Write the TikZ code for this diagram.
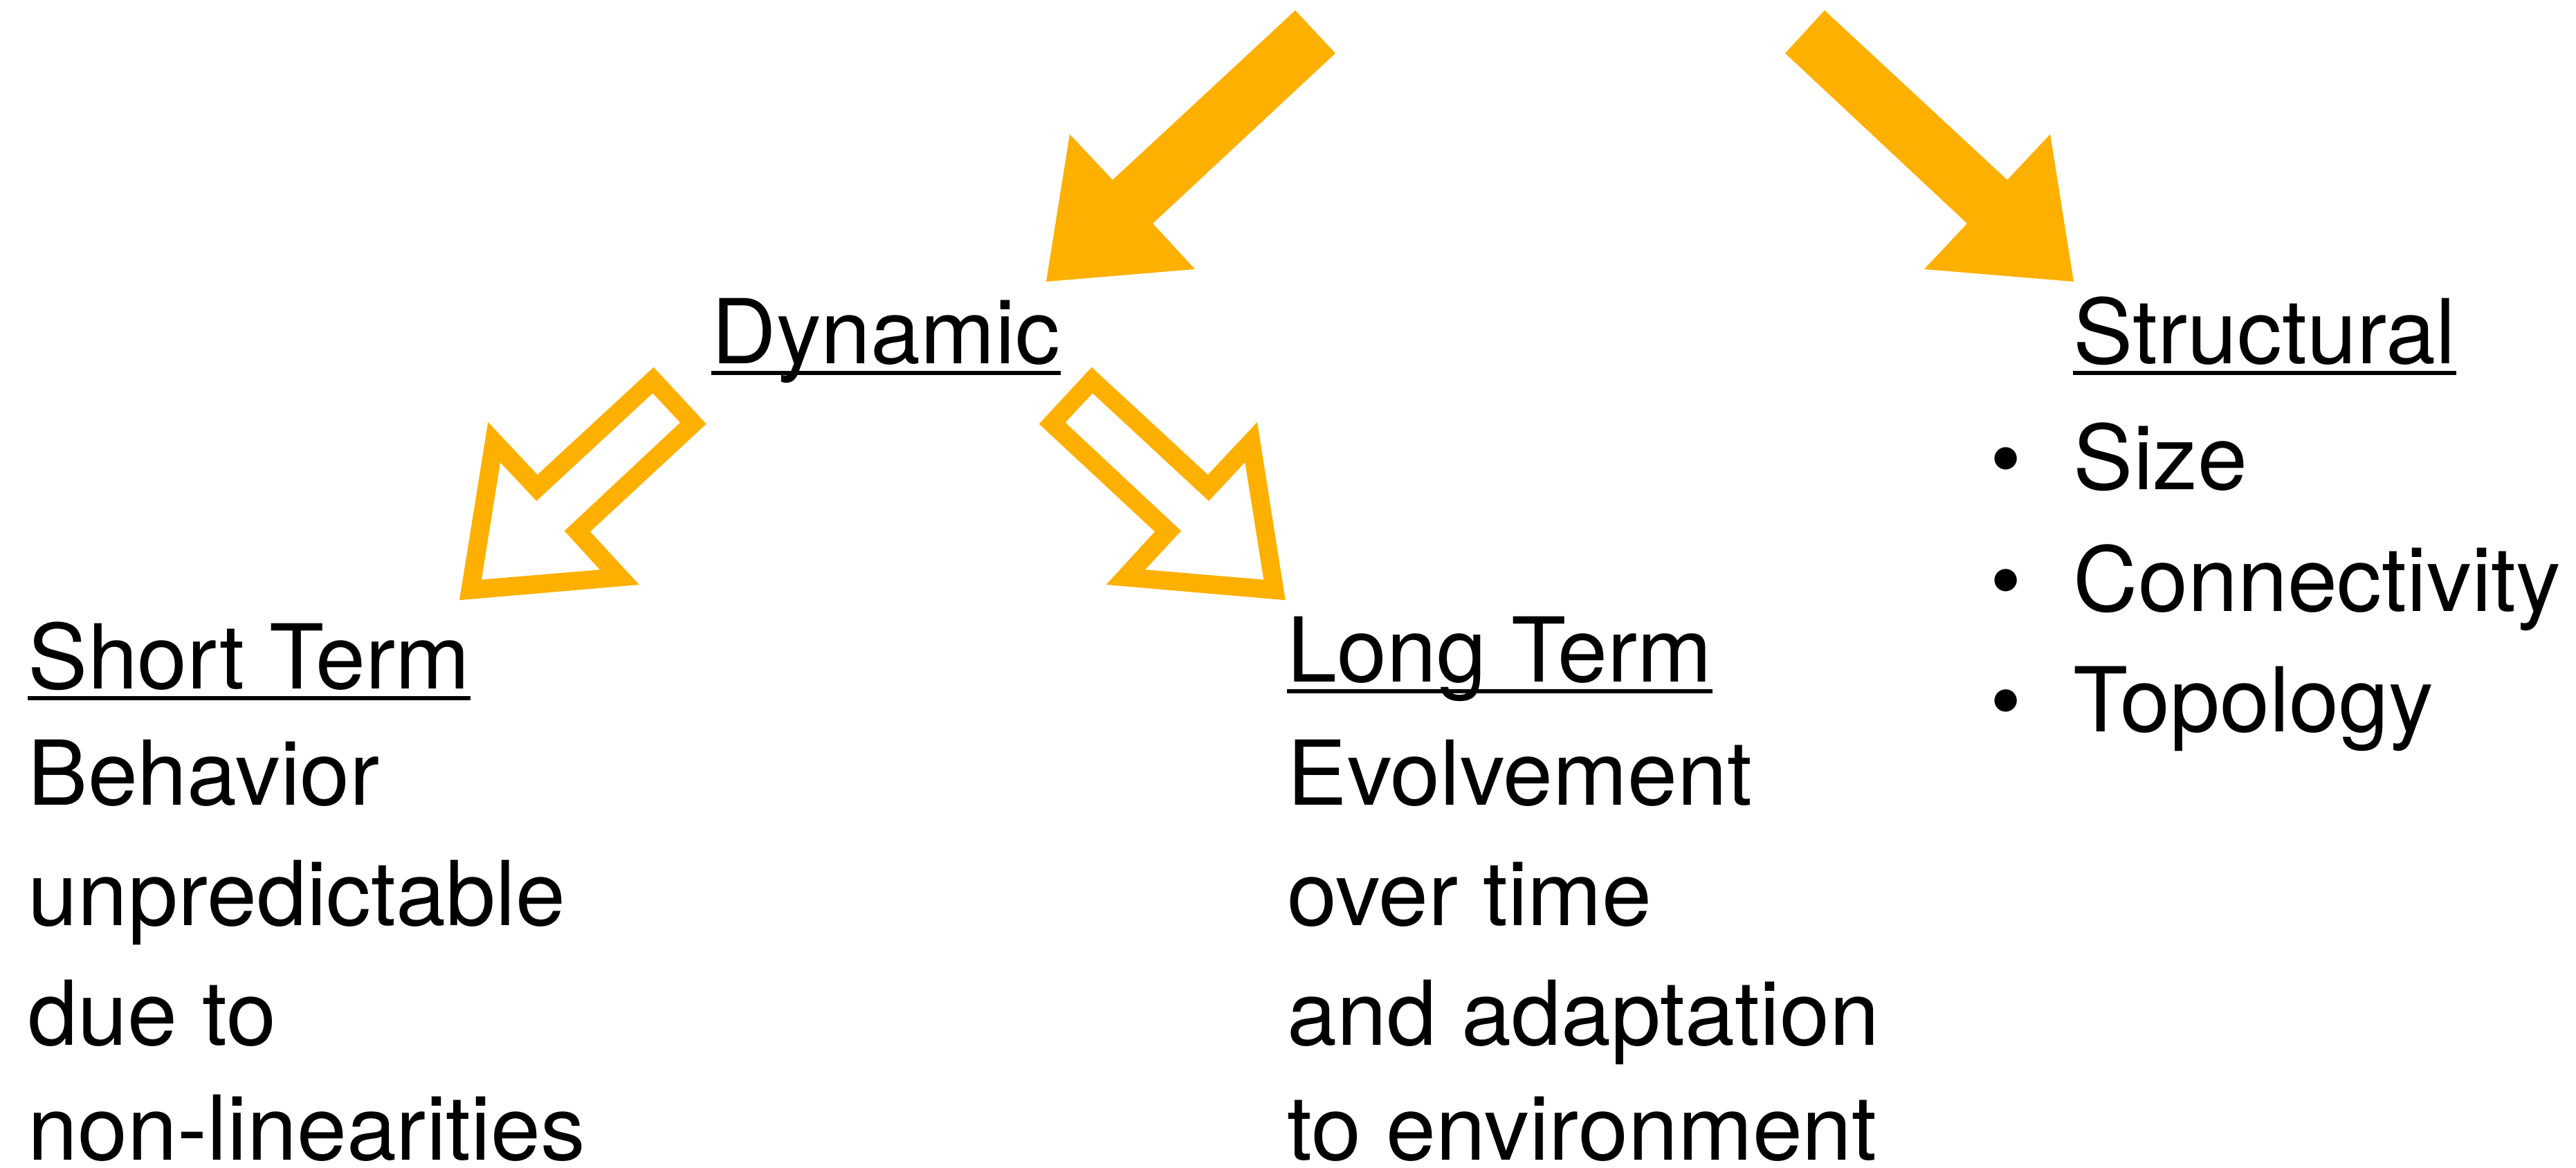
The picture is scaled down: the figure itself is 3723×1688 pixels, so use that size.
\documentclass[tikz,border=0pt]{standalone}
\usepackage{fontspec}
\setmainfont{TeX Gyre Heros}
\definecolor{arrowgold}{RGB}{254,176,0}
\newcommand{\diagfont}{\fontsize{36.8pt}{44pt}\selectfont}

\tikzset{
  txt/.style={anchor=base west, inner sep=0pt, font=\diagfont},
  dot/.style={anchor=base, inner sep=0pt, font=\diagfont},
  underbar/.style={line width=1.7pt},
  solidarrow/.style={fill=arrowgold, draw=none},
  hollowarrow/.style={fill=arrowgold, draw=none, even odd rule},
}

\begin{document}
\begin{tikzpicture}[x=0.01cm, y=-0.01cm]
\useasboundingbox (0,0) rectangle (3723,1688);

% ---- headings ----
\node[txt] (dyn)    at (1028,525) {Dynamic};
\node[txt] (struct) at (2996,525) {Structural};
\node[txt] (short)  at (40,995)   {Short Term};
\node[txt] (long)   at (1860,985) {Long Term};

\foreach \n in {dyn,struct,short,long}
  \draw[underbar] ([yshift=-0.14cm]\n.base west) -- ([yshift=-0.14cm]\n.base east);

% ---- structural items ----
\node[dot] (b1) at (2899,707)  {•};
\node[dot] (b2) at (2899,883)  {•};
\node[dot] (b3) at (2899,1057) {•};
\node[txt] (size) at (2996,707)  {Size};
\node[txt] (conn) at (2996,883)  {Connectivity};
\node[txt] (topo) at (2996,1057) {Topology};

% ---- short term text ----
\node[txt] (s1) at (40,1163) {Behavior};
\node[txt] (s2) at (40,1337) {unpredictable};
\node[txt] (s3) at (40,1510) {due to};
\node[txt] (s4) at (40,1676) {non-linearities};

% ---- long term text ----
\node[txt] (l1) at (1860,1163) {Evolvement};
\node[txt] (l2) at (1860,1337) {over time};
\node[txt] (l3) at (1860,1510) {and adaptation};
\node[txt] (l4) at (1860,1676) {to environment};

% ---- large filled arrows ----
\fill[solidarrow] (1872,15) -- (1930,77) -- (1666,323) -- (1727,389)
  -- (1512,407) -- (1546,194) -- (1608,260) -- cycle;
\fill[solidarrow] (2637,15) -- (2580,77) -- (2843,323) -- (2781,389)
  -- (2997,407) -- (2963,194) -- (2901,260) -- cycle;

% ---- outlined arrows below "Dynamic" ----
\fill[hollowarrow]
  (944.7,530.7) -- (1020.7,612.7) -- (853,768.3) -- (923.7,845)
  -- (664,867.3) -- (705.3,610) -- (776.7,686) -- cycle
  (943.3,568.3) -- (983,610.7) -- (815.7,767.3) -- (867,823.3)
  -- (696,837.7) -- (723,668.3) -- (775.3,724) -- cycle;
\fill[hollowarrow]
  (1577.7,530.7) -- (1501.7,612.7) -- (1669,768.3) -- (1598.7,845)
  -- (1857.7,867.3) -- (1817,610) -- (1745.7,686) -- cycle
  (1579,568.3) -- (1539.7,610.7) -- (1707,767.3) -- (1655,823.3)
  -- (1826.3,837.7) -- (1799.3,668.3) -- (1747,724) -- cycle;
\end{tikzpicture}
\end{document}
